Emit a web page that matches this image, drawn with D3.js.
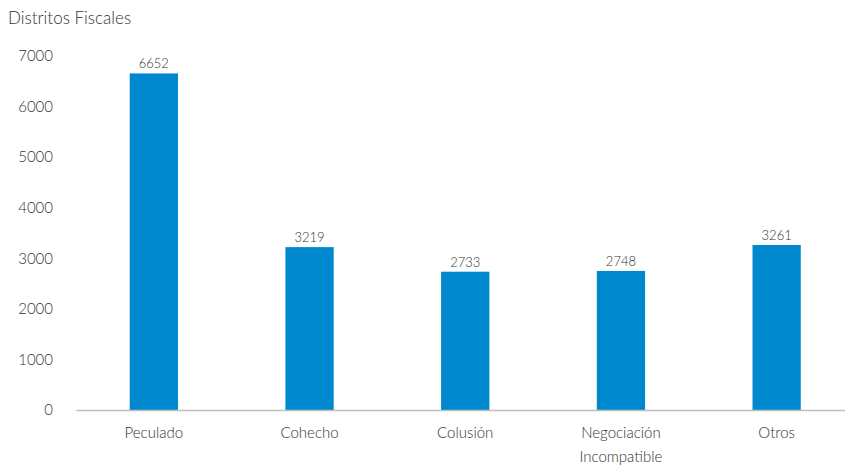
<!DOCTYPE html>
<html>
<head>
<meta charset="utf-8">
<script src="https://cdn.jsdelivr.net/npm/d3@7"></script>
<style>
  html, body { margin: 0; padding: 0; background: #fff; }
  svg { display: block; }
  text { font-family: "Lato", "Open Sans", sans-serif; font-weight: 300; }
</style>
</head>
<body>
<svg id="chart" width="845" height="471"></svg>
<script>
const categories = ["Peculado", "Cohecho", "Colusión", "Negociación Incompatible", "Otros"];
const categoryLines = [["Peculado"], ["Cohecho"], ["Colusión"], ["Negociación", "Incompatible"], ["Otros"]];
const values = [6652, 3219, 2733, 2748, 3261];
const yTicks = [0, 1000, 2000, 3000, 4000, 5000, 6000, 7000];
const title = "Distritos Fiscales";

(function () {
const svg = d3.select("#chart");
const mLeft = 76, mRight = 854.5, mTop = 55.8, mBottom = 410;

const x = d3.scaleBand().domain(categories).range([mLeft, mRight]).paddingInner(0.69).paddingOuter(0.345);
const y = d3.scaleLinear().domain([0, 7000]).range([mBottom, mTop]);

svg.append("text").attr("x", 8).attr("y", 24).attr("font-size", 17).attr("fill", "#333").text(title);

// y labels
const yAxis = d3.axisLeft(y).tickValues(yTicks).tickSize(0).tickPadding(23).tickFormat(d3.format("d"));
const gy = svg.append("g").attr("transform", `translate(${mLeft},0)`).call(yAxis);
gy.select(".domain").remove();
gy.selectAll("text").attr("font-size", 15).attr("fill", "#333").style("font-family", "Lato, 'Open Sans', sans-serif").style("font-weight", 300);

// bars
svg.selectAll("rect.bar").data(values).join("rect")
  .attr("class", "bar")
  .attr("x", (d, i) => x(categories[i]))
  .attr("width", x.bandwidth())
  .attr("y", d => y(d))
  .attr("height", d => y(0) - y(d))
  .attr("fill", "#0088CE");

// value labels
svg.selectAll("text.val").data(values).join("text")
  .attr("class", "val")
  .attr("x", (d, i) => x(categories[i]) + x.bandwidth() / 2)
  .attr("y", d => y(d) - 5)
  .attr("text-anchor", "middle")
  .attr("font-size", 13)
  .attr("fill", "#333")
  .text(d => d);

// x axis
const xAxis = d3.axisBottom(x).tickSize(0).tickFormat("");
const gx = svg.append("g").attr("transform", `translate(0,${mBottom})`).call(xAxis);
gx.select(".domain").attr("stroke", "#bfbfbf").attr("stroke-width", 1.5);

// x labels
categories.forEach((c, i) => {
  const t = svg.append("text")
    .attr("x", x(c) + x.bandwidth() / 2)
    .attr("y", mBottom + 28)
    .attr("text-anchor", "middle")
    .attr("font-size", 15)
    .attr("fill", "#333");
  categoryLines[i].forEach((ln, j) => {
    t.append("tspan").attr("x", x(c) + x.bandwidth() / 2).attr("dy", j === 0 ? 0 : 24).text(ln);
  });
});
})();
</script>
</body>
</html>
